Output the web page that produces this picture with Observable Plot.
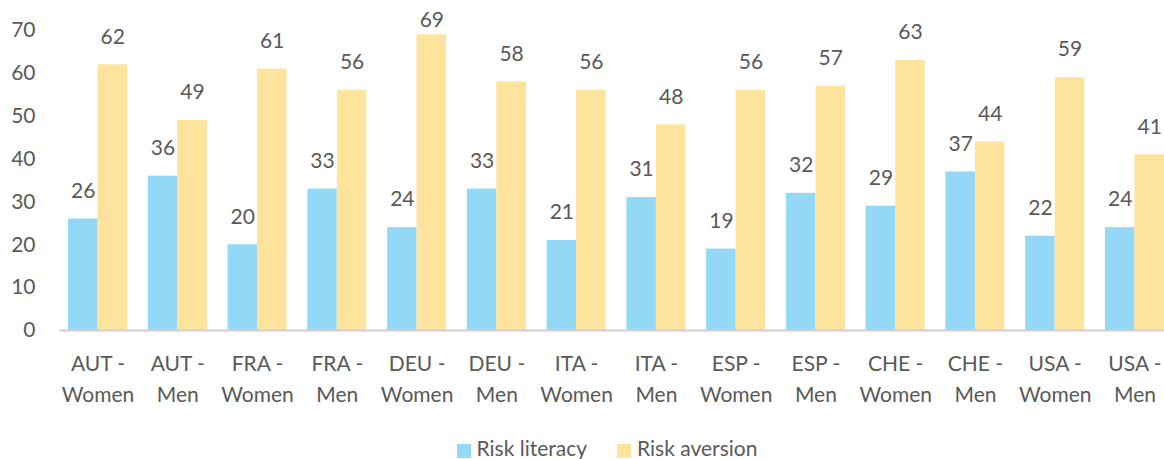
<!DOCTYPE html>
<html><head><meta charset="utf-8">
<script src="https://cdn.jsdelivr.net/npm/d3@7"></script>
<script src="https://cdn.jsdelivr.net/npm/@observablehq/plot@0.6"></script>
<style>
body{margin:0;background:#fff;font-family:Lato, sans-serif;}
#legend{display:flex;justify-content:center;align-items:center;font-size:21px;color:#595959;line-height:26px;margin-top:5px;padding-left:50px}
.item{display:flex;align-items:center;margin:0 15px}
.sw{width:14px;height:14px;margin-right:6px;margin-top:6px}
</style></head><body><div id="chart"></div><div id="legend"></div>
<script>
const categories = ["AUT - Women","AUT - Men","FRA - Women","FRA - Men","DEU - Women","DEU - Men","ITA - Women","ITA - Men","ESP - Women","ESP - Men","CHE - Women","CHE - Men","USA - Women","USA - Men"];
const series = ["Risk literacy","Risk aversion"];
const riskLiteracy = [26,36,20,33,24,33,21,31,19,32,29,37,22,24];
const riskAversion = [62,49,61,56,69,58,56,48,56,57,63,44,59,41];
const colors = ["#93d9f7","#fde39c"];
const yTicks = [0,10,20,30,40,50,60,70];

const data = categories.flatMap((c,i)=>[
  {cat:c, series:series[0], value:riskLiteracy[i]},
  {cat:c, series:series[1], value:riskAversion[i]}
]);
const nearTop = d => d.value >= 68;

const chart = Plot.plot({
  width:1164, height:430, marginLeft:68, marginRight:0, marginTop:30, marginBottom:100,
  style:{fontFamily:"Lato, sans-serif", fontSize:"21px", color:"#595959", background:"white", overflow:"hidden"},
  fx:{domain:categories, paddingInner:0.26, paddingOuter:0, round:false, label:null, axis:null},
  x:{domain:series, padding:0, round:false, axis:null},
  y:{domain:[0,70], axis:null},
  color:{domain:series, range:colors},
  marks:[
    Plot.barY(data,{fx:"cat", x:"series", y:"value", fill:"series"}),
    Plot.text(data,{filter:d=>!nearTop(d), fx:"cat", x:"series", y:"value", text:d=>String(d.value), dy:-28, fill:"#595959"}),
    Plot.text(data,{filter:nearTop, fx:"cat", x:"series", y:"value", text:d=>String(d.value), dy:-15, fill:"#595959"}),
    Plot.frame({anchor:"bottom", stroke:"#d0d0d0", strokeWidth:2, insetLeft:-8, facet:"super"}),
    Plot.axisY({ticks:yTicks, tickSize:0, tickPadding:33, label:null}),
    Plot.axisFx({anchor:"bottom", tickSize:0, tickPadding:18, lineHeight:1.5, label:null, tickFormat:d=>d.replace(" - "," -\n")})
  ]
});
document.getElementById("chart").append(chart);

const legend = document.getElementById("legend");
series.forEach((s,i)=>{
  const it = document.createElement("div"); it.className="item";
  const sw = document.createElement("div"); sw.className="sw"; sw.style.background=colors[i];
  const t = document.createElement("span"); t.textContent=s;
  it.append(sw,t); legend.append(it);
});
</script></body></html>
